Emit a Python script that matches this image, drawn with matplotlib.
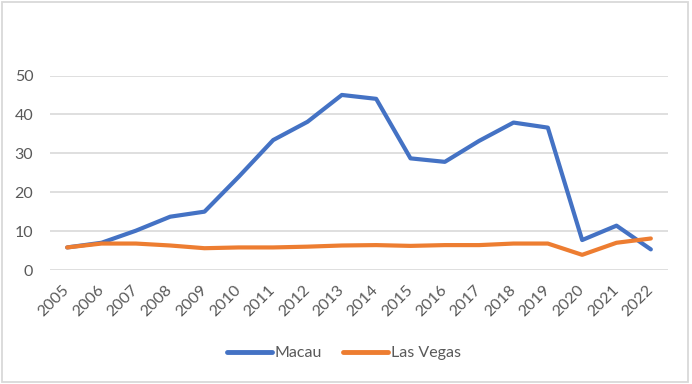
import matplotlib
matplotlib.use("Agg")
import matplotlib.pyplot as plt
from matplotlib.patches import Rectangle

years = [str(y) for y in range(2005, 2023)]
macau = [5.8, 7.0, 10.1, 13.7, 15.0, 24.0, 33.4, 38.1, 45.0, 44.0,
         28.7, 27.8, 33.2, 37.9, 36.6, 7.7, 11.4, 5.3]
las_vegas = [5.8, 6.8, 6.8, 6.3, 5.6, 5.8, 5.8, 6.0, 6.3, 6.4,
             6.2, 6.4, 6.4, 6.8, 6.8, 3.9, 7.0, 8.1]
yticks = [0, 10, 20, 30, 40, 50]

plt.rcParams['font.family'] = ['Lato', 'DejaVu Sans']

fig = plt.figure(figsize=(6.92, 3.84), dpi=100)
ax = fig.add_axes([50/692, 1 - 270/384, 618/692, (270 - 75.5)/384])

x = list(range(len(years)))
ax.plot(x, macau, color='#4472C4', lw=3.0, solid_capstyle='round', solid_joinstyle='round', label='Macau')
ax.plot(x, las_vegas, color='#ED7D31', lw=3.0, solid_capstyle='round', solid_joinstyle='round', label='Las Vegas')

ax.set_xlim(-0.5, len(years) - 0.5)
ax.set_ylim(0, 50)
ax.set_yticks(yticks)
ax.set_yticklabels([str(v) for v in yticks])
ax.set_xticks(x)
ax.set_xticklabels(years, rotation=45, ha='right', va='center', rotation_mode='anchor')
ax.tick_params(axis='both', length=0, labelsize=11.5, colors='#595959')
ax.tick_params(axis='y', pad=12)
ax.tick_params(axis='x', pad=13)
ax.grid(axis='y', color='#D9D9D9', lw=1.2)
ax.set_axisbelow(True)
for s in ax.spines.values():
    s.set_visible(False)

leg = fig.legend(loc='center', bbox_to_anchor=(344/692, 1 - 353/384), ncol=2, frameon=False,
                 fontsize=11.5, handlelength=2.8, handletextpad=0.2, columnspacing=1.3)
for t in leg.get_texts():
    t.set_color('#595959')
for h in leg.get_lines():
    h.set_linewidth(3.5)
    h.set_solid_capstyle('round')

fig.patches.append(Rectangle((2/692, 2/384), 686/692, 380/384, transform=fig.transFigure,
                             fill=False, edgecolor='#D9D9D9', lw=1.3))

fig.savefig('out.png', dpi=100)
